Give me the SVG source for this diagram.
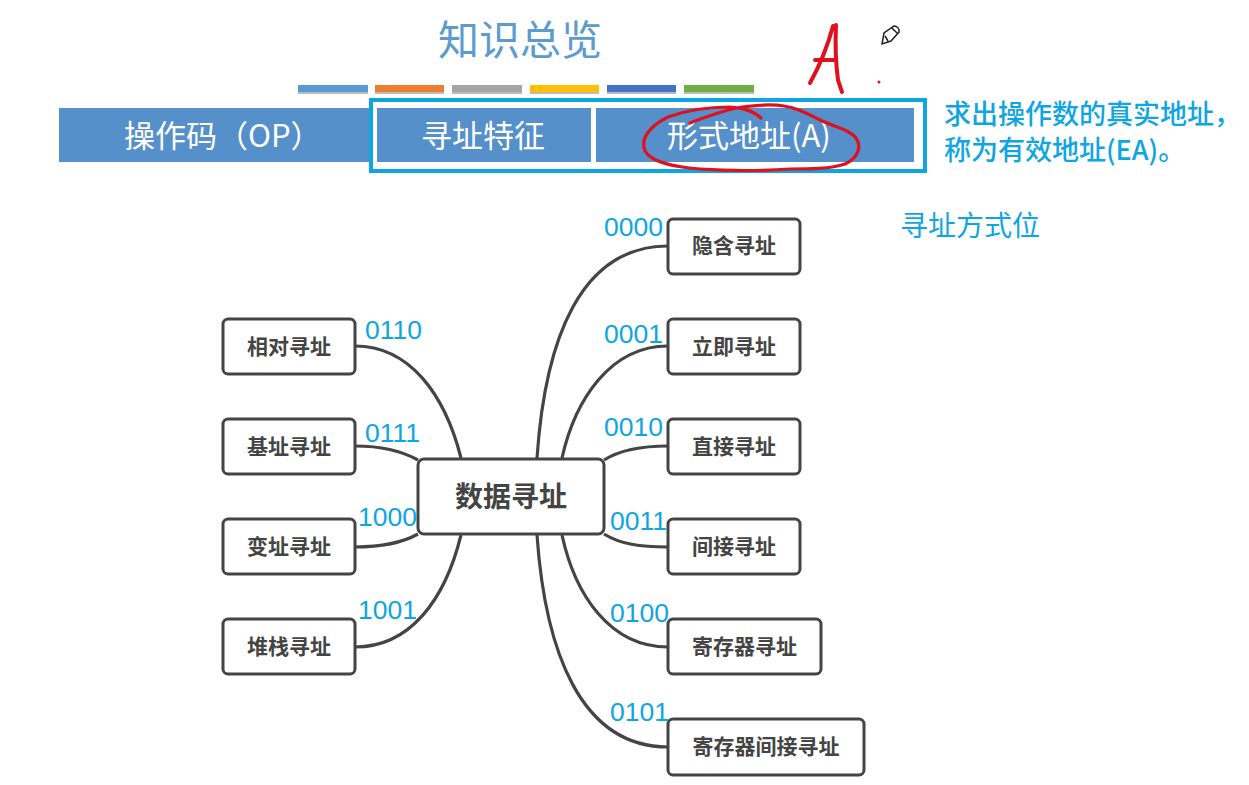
<svg xmlns="http://www.w3.org/2000/svg" width="1249" height="785" viewBox="0 0 1249 785">
<style>
text{font-family:"Noto Sans CJK SC","Liberation Sans",sans-serif}
.n rect{fill:#fff;stroke:#444;stroke-width:3}
.n text{font-size:21px;font-weight:700;fill:#444;text-anchor:middle}
.c{fill:none;stroke:#444;stroke-width:3.2}
.b{font-family:"Liberation Sans",sans-serif;font-size:26.500px;fill:#0ea5e3}
.h{fill:#5590cb}
.w{fill:#fff;font-size:31px}
.r{fill:none;stroke:#e0101c;stroke-width:3.200;stroke-linecap:round;stroke-linejoin:round}
.t{fill:#0ea5e3;font-size:27px;font-weight:500}
.s{fill:#bbb}
</style>
<rect width="1249" height="785" fill="#fff"/>
<text x="520" y="55" font-size="41" fill="#5b9bd0" text-anchor="middle">知识总览</text>
<g id="colour-bars">
<rect class="s" x="298" y="87" width="70" height="7"/><rect class="s" x="375" y="87" width="69" height="7"/><rect class="s" x="452" y="87" width="70" height="7"/><rect class="s" x="530" y="87" width="69" height="7"/><rect class="s" x="607" y="87" width="69" height="7"/><rect class="s" x="684" y="87" width="70" height="7"/>
<rect x="298" y="85" width="70" height="7" fill="#5b9bd5"/>
<rect x="375" y="85" width="69" height="7" fill="#ed7d31"/>
<rect x="452" y="85" width="70" height="7" fill="#a5a5a5"/>
<rect x="530" y="85" width="69" height="7" fill="#ffc000"/>
<rect x="607" y="85" width="69" height="7" fill="#4472c4"/>
<rect x="684" y="85" width="70" height="7" fill="#70ad47"/>
</g>
<g id="instruction-format">
<rect class="h" x="59" y="108" width="312" height="54"/>
<rect x="371" y="100" width="554" height="71" fill="#fff" stroke="#0ea5e3" stroke-width="4"/>
<rect class="h" x="377" y="108" width="214" height="54"/>
<rect class="h" x="596" y="108" width="318" height="54"/>
<text class="w" x="124" y="147">操作码（OP）</text>
<text class="w" x="421" y="147">寻址特征</text>
<text class="w" x="667" y="147">形式地址(A)</text>
</g>
<g id="annotation">
<text class="t" x="944" y="124">求出操作数的真实地址，</text>
<text class="t" x="944" y="160">称为有效地址(EA)。</text>
<text x="900" y="236" font-size="28" fill="#0ea5e3">寻址方式位</text>
</g>
<g id="ink">
<path class="r" d="M690 123C708 116 725 110 742 107C757 105 772 104 784 106C798 108 808 114 820 120C835 127 850 130 856 138C862 147 858 158 845 164C830 169 810 169 790 169C760 171 730 171 700 169C675 167 652 163 645 151C640 138 650 126 668 117C690 109 712 107 730 107C742 108 752 110 761 118"/>
<path class="r" style="stroke-width:4" d="M833 26C828 45 820 65 810 83M836 25C835 45 836 65 838 80L842 92M815 60L836 60"/>
<circle cx="879" cy="82" r="1.500" fill="#e0101c"/>
<path d="M882 44L884 33L894 26C897 26 900 29 899 32L891 41ZM892 28L897 33M885 36L888 41" fill="#fff" stroke="#222" stroke-width="1.500"/>
</g>
<g id="connectors">
<path class="c" d="M537 458C545 340 580 246 668 246"/>
<path class="c" d="M562 458C575 400 610 346 668 346"/>
<path class="c" d="M604 460C620 450 640 446 668 446"/>
<path class="c" d="M604 534C620 544 640 547 668 547"/>
<path class="c" d="M562 535C575 595 610 647 668 647"/>
<path class="c" d="M537 535C545 650 580 747 668 747"/>
<path class="c" d="M461 458C445 395 410 346 355 346"/>
<path class="c" d="M418 460C400 450 380 446 355 446"/>
<path class="c" d="M418 534C400 544 380 547 355 547"/>
<path class="c" d="M461 535C445 600 410 647 355 647"/>
</g>
<g id="center" class="n"><rect x="418" y="459" width="186" height="75" rx="6"/><text x="511" y="507" style="font-size:28px">数据寻址</text></g>
<g id="n0" class="n"><rect x="668" y="219" width="132" height="55" rx="5"/><text x="734" y="253">隐含寻址</text></g>
<g id="n1" class="n"><rect x="668" y="319" width="132" height="55" rx="5"/><text x="734" y="354">立即寻址</text></g>
<g id="n2" class="n"><rect x="668" y="419" width="132" height="55" rx="5"/><text x="734" y="454">直接寻址</text></g>
<g id="n3" class="n"><rect x="668" y="519" width="132" height="55" rx="5"/><text x="734" y="554">间接寻址</text></g>
<g id="n4" class="n"><rect x="668" y="619" width="153" height="55" rx="5"/><text x="744.500" y="654">寄存器寻址</text></g>
<g id="n5" class="n"><rect x="668" y="719" width="196" height="56" rx="5"/><text x="766" y="754">寄存器间接寻址</text></g>
<g id="n6" class="n"><rect x="223" y="319" width="132" height="55" rx="5"/><text x="289" y="354">相对寻址</text></g>
<g id="n7" class="n"><rect x="223" y="419" width="132" height="55" rx="5"/><text x="289" y="454">基址寻址</text></g>
<g id="n8" class="n"><rect x="223" y="519" width="132" height="55" rx="5"/><text x="289" y="554">变址寻址</text></g>
<g id="n9" class="n"><rect x="223" y="619" width="132" height="55" rx="5"/><text x="289" y="654">堆栈寻址</text></g>
<g id="codes">
<text class="b" x="604" y="236">0000</text>
<text class="b" x="604" y="343">0001</text>
<text class="b" x="604" y="436">0010</text>
<text class="b" x="610" y="530">0011</text>
<text class="b" x="610" y="622">0100</text>
<text class="b" x="610" y="721">0101</text>
<text class="b" x="365" y="339">0110</text>
<text class="b" x="365" y="442">0111</text>
<text class="b" x="358" y="526">1000</text>
<text class="b" x="358" y="619">1001</text>
</g>
</svg>
